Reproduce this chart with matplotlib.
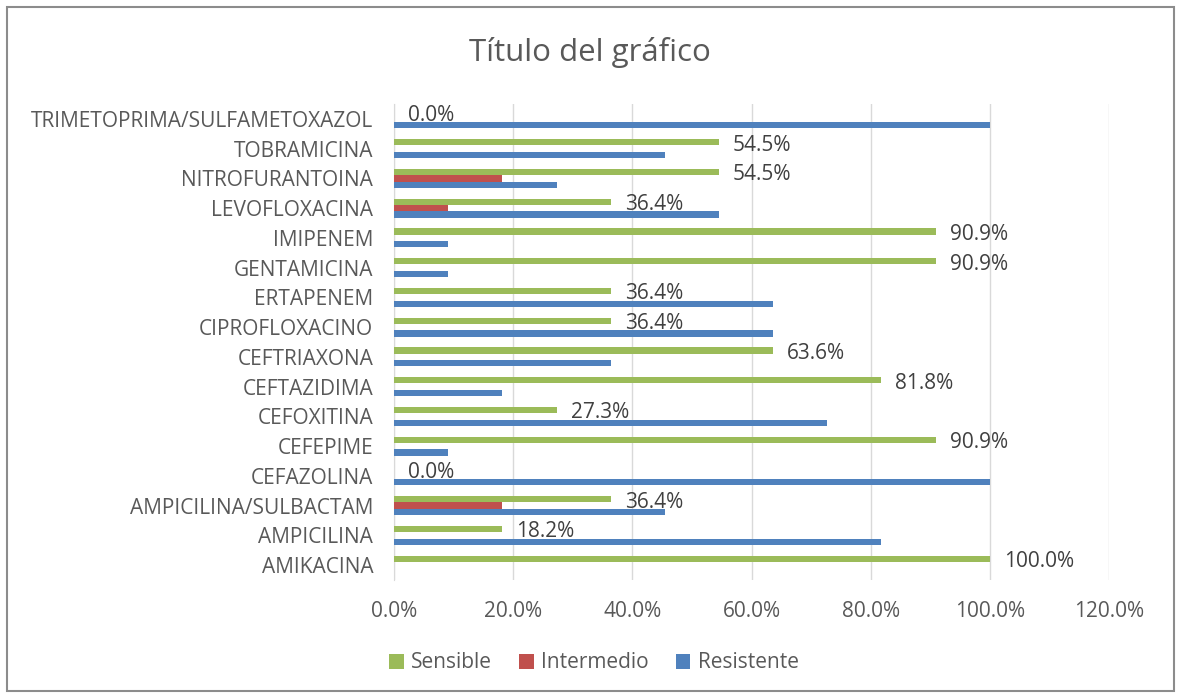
import matplotlib
matplotlib.use("Agg")
import matplotlib.pyplot as plt
from matplotlib.patches import Rectangle
from matplotlib.ticker import FuncFormatter, MultipleLocator
import numpy as np

plt.rcParams['font.family'] = ['Open Sans', 'DejaVu Sans']

categories = ["AMIKACINA", "AMPICILINA", "AMPICILINA/SULBACTAM", "CEFAZOLINA",
              "CEFEPIME", "CEFOXITINA", "CEFTAZIDIMA", "CEFTRIAXONA",
              "CIPROFLOXACINO", "ERTAPENEM", "GENTAMICINA", "IMIPENEM",
              "LEVOFLOXACINA", "NITROFURANTOINA", "TOBRAMICINA",
              "TRIMETOPRIMA/SULFAMETOXAZOL"]
sensible = [100.0, 18.2, 36.4, 0.0, 90.9, 27.3, 81.8, 63.6, 36.4, 36.4,
            90.9, 90.9, 36.4, 54.5, 54.5, 0.0]
intermedio = [0.0, 0.0, 18.2, 0.0, 0.0, 0.0, 0.0, 0.0, 0.0, 0.0,
              0.0, 0.0, 9.1, 18.2, 0.0, 0.0]
resistente = [0.0, 81.8, 45.5, 100.0, 9.1, 72.7, 18.2, 36.4, 63.6, 63.6,
              9.1, 9.1, 54.5, 27.3, 45.5, 100.0]
series_names = ["Sensible", "Intermedio", "Resistente"]
colors = ["#9BBB59", "#C0504D", "#4F81BD"]

W, H = 1181, 698
fig = plt.figure(figsize=(W / 100, H / 100), dpi=100)
fig.patch.set_facecolor("white")

# outer border
fig.add_artist(Rectangle((7 / W, 1 - 691 / H), (1174 - 7) / W, (691 - 7) / H,
                         transform=fig.transFigure, fill=False,
                         edgecolor="#8C8C8C", linewidth=1.5))

ax = fig.add_axes([394 / W, 1 - 580 / H, (1109 - 394) / W, (580 - 104) / H])
y = np.arange(len(categories))
bh = 0.212
txt = "#595959"
fs = 15

data = [sensible, intermedio, resistente]
offsets = [bh, 0.0, -bh]
for vals, name, col, off in zip(data, series_names, colors, offsets):
    ax.barh(y + off, np.array(vals) / 100.0, height=bh, color=col, label=name,
            zorder=3)

for yi, v in zip(y, sensible):
    ax.annotate(f"{v:.1f}%", (v / 100.0, yi + bh), xytext=(10, -2),
                textcoords="offset points", ha="left", va="center",
                fontsize=fs, color="#404040", zorder=4)

ax.set_xlim(0, 1.2)
ax.set_ylim(-0.5, len(categories) - 0.5)
ax.xaxis.set_major_locator(MultipleLocator(0.2))
ax.xaxis.set_major_formatter(FuncFormatter(lambda v, p: f"{v * 100:.1f}%"))
ax.set_yticks(y)
ax.set_yticklabels(categories)
ax.tick_params(axis="both", length=0, labelsize=fs, colors=txt)
ax.tick_params(axis="y", pad=15)
ax.tick_params(axis="x", pad=15)
ax.grid(axis="x", color="#D9D9D9", linewidth=1, zorder=0)
for s in ["top", "right", "bottom"]:
    ax.spines[s].set_visible(False)
ax.spines["left"].set_color("#D9D9D9")

fig.text(590 / W, 1 - 52 / H, "Título del gráfico", ha="center", va="center",
         fontsize=22.5, color=txt)

leg = fig.legend(*ax.get_legend_handles_labels(), loc="center",
                 bbox_to_anchor=(594 / W, 1 - 663 / H), ncol=3, frameon=False,
                 fontsize=fs, handlelength=0.7, handleheight=0.7,
                 handletextpad=0.35, columnspacing=1.3, labelcolor=txt)

fig.savefig("out.png", dpi=100, facecolor="white")
